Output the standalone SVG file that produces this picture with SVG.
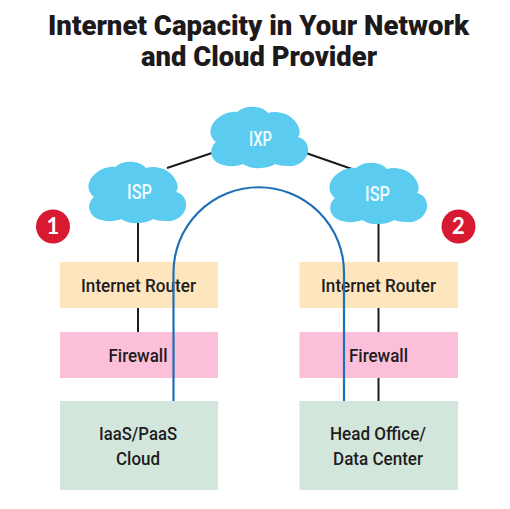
<svg xmlns="http://www.w3.org/2000/svg" xmlns:xlink="http://www.w3.org/1999/xlink" width="510" height="509" viewBox="0 0 510 509">
<style>
.t{font-family:"Roboto","Liberation Sans",sans-serif;font-weight:900;font-size:28px;fill:#1d1a1b;text-anchor:middle}
.l{font-family:"Roboto","Liberation Sans",sans-serif;font-weight:500;font-size:19px;fill:#1f1c1d;text-anchor:middle}
.c{font-family:"Roboto","Liberation Sans",sans-serif;font-weight:500;font-size:20px;fill:#f2fbff;text-anchor:middle}
.n{font-family:"Lato","Liberation Sans",sans-serif;font-weight:700;font-size:22px;fill:#fff;text-anchor:middle}
.cloud{fill:#5ccbf0}
.k{stroke:#1c1c1c;stroke-width:2;fill:none}
.b{stroke:#1f6fb8;stroke-width:2.200;fill:none}
.or{fill:#fde6bd}.pk{fill:#fcbfd9}.gr{fill:#d3e6dc}
.badge{fill:#d71a31}
</style>
<defs>
<path id="cl" d="M27 5C35 -2 51 -2 58 6C68 3 84 7 89 21C90 25 90 27 88 30C96 32 99 39 98 45C96 55 86 60 78 59C72 59 68 58 65 57C58 62 41 63 33 57C26 60 15 60 8 56C1 52 -2 42 6 35C-1 30 -1 21 4 15C10 8 19 4 27 5Z"/>
</defs>
<rect width="510" height="509" fill="#fff"/>
<text class="t" x="258.500" y="35" textLength="421" lengthAdjust="spacingAndGlyphs">Internet Capacity in Your Network</text>
<text class="t" x="259" y="65.500" textLength="236" lengthAdjust="spacingAndGlyphs">and Cloud Provider</text>
<g id="connectors">
<path class="k" d="M167 168L212 153M306 153L352 169M138 223V332M378.500 224V401"/>
</g>
<g id="ixp"><use xlink:href="#cl" href="#cl" class="cloud" x="210" y="107"/><text class="c" x="260.500" y="146" textLength="23" lengthAdjust="spacingAndGlyphs">IXP</text></g>
<g id="isp1"><use xlink:href="#cl" href="#cl" class="cloud" x="88" y="162"/><text class="c" x="139.500" y="198.500" textLength="25" lengthAdjust="spacingAndGlyphs">ISP</text></g>
<g id="isp2"><use xlink:href="#cl" href="#cl" class="cloud" x="329" y="163"/><text class="c" x="377.500" y="200.500" textLength="25" lengthAdjust="spacingAndGlyphs">ISP</text></g>
<g id="badge1"><circle class="badge" cx="53" cy="226.500" r="17"/><text class="n" x="53" y="234">1</text></g>
<g id="badge2"><circle class="badge" cx="458.500" cy="226.500" r="17"/><text class="n" x="458.500" y="234">2</text></g>
<g id="router1"><rect class="or" x="60" y="262" width="158" height="46"/><text class="l" x="138.500" y="292" textLength="115" lengthAdjust="spacingAndGlyphs">Internet Router</text></g>
<g id="router2"><rect class="or" x="299.500" y="262" width="158.500" height="46"/><text class="l" x="378.500" y="292" textLength="115" lengthAdjust="spacingAndGlyphs">Internet Router</text></g>
<g id="firewall1"><rect class="pk" x="60" y="332" width="158" height="46"/><text class="l" x="138" y="362" textLength="59" lengthAdjust="spacingAndGlyphs">Firewall</text></g>
<g id="firewall2"><rect class="pk" x="299.500" y="332" width="158.500" height="46"/><text class="l" x="378.500" y="362" textLength="59" lengthAdjust="spacingAndGlyphs">Firewall</text></g>
<g id="cloud-dc"><rect class="gr" x="60" y="401" width="158" height="89"/><text class="l" x="138" y="440" textLength="78" lengthAdjust="spacingAndGlyphs">IaaS/PaaS</text><text class="l" x="138" y="465" textLength="44" lengthAdjust="spacingAndGlyphs">Cloud</text></g>
<g id="head-office"><rect class="gr" x="299.500" y="401" width="158.500" height="89"/><text class="l" x="378" y="440" textLength="96" lengthAdjust="spacingAndGlyphs">Head Office/</text><text class="l" x="378" y="465" textLength="90" lengthAdjust="spacingAndGlyphs">Data Center</text></g>
<g id="path"><path class="b" d="M173.500 401V272.500A85.250 85.250 0 0 1 344 272.500V401"/></g>
</svg>
